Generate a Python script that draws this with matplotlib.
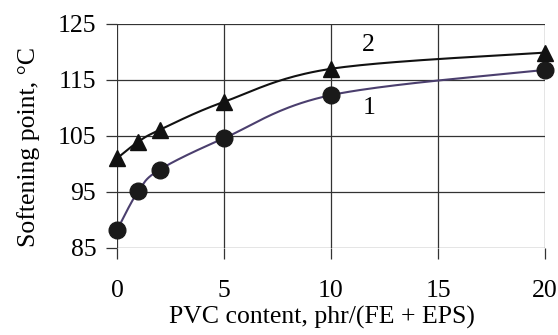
import numpy as np
import matplotlib
matplotlib.use("Agg")
import matplotlib.pyplot as plt

plt.rcParams['font.family'] = ['Liberation Serif', 'DejaVu Serif']

x_vals = [0, 1, 2, 5, 10, 20]
series1 = [88.2, 95.2, 99.0, 104.6, 112.3, 116.8]
series2 = [101.0, 104.0, 106.1, 111.1, 117.0, 119.9]
x_ticks = [0, 5, 10, 15, 20]
y_ticks = [85, 95, 105, 115, 125]
labels = ["1", "2"]


def smooth(xs, ys, sx, sy, n=40):
    # Catmull-Rom style smoothing computed in (approx.) screen proportions
    px = np.asarray(xs, float) * sx
    py = np.asarray(ys, float) * sy
    P = np.column_stack([px, py])
    P = np.vstack([P[0], P, P[-1]])
    out = []
    for i in range(1, len(P) - 2):
        p0, p1, p2, p3 = P[i - 1], P[i], P[i + 1], P[i + 2]
        c1 = p1 + (p2 - p0) / 6.0
        c2 = p2 - (p3 - p1) / 6.0
        t = np.linspace(0, 1, n)[:, None]
        seg = ((1 - t) ** 3) * p1 + 3 * ((1 - t) ** 2) * t * c1 + 3 * (1 - t) * t ** 2 * c2 + t ** 3 * p2
        out.append(seg if i == 1 else seg[1:])
    out = np.vstack(out)
    return out[:, 0] / sx, out[:, 1] / sy


fs = 18.5
fig = plt.figure(figsize=(5.58, 3.35), dpi=100)
ax = fig.add_axes([117 / 558, 1 - 248 / 335, (545 - 117) / 558, (248 - 24) / 335])

sx, sy = 21.4, 5.6
xs1, ys1 = smooth(x_vals, series1, sx, sy)
xs2, ys2 = smooth(x_vals, series2, sx, sy)
ax.plot(xs1, ys1, color='#4b3f6e', lw=1.5, zorder=3)
ax.plot(xs2, ys2, color='#111111', lw=1.5, zorder=3)
ax.plot(x_vals, series1, 'o', color='#1a1a1a', ms=12, zorder=4, clip_on=False)
ax.plot(x_vals, series2, '^', color='#111111', ms=11.5, zorder=4, clip_on=False)

ax.text(11.75, 121.3, labels[1], fontsize=fs, ha='center', va='center')
ax.text(11.8, 110.0, labels[0], fontsize=fs, ha='center', va='center')

ax.set_xlim(0, 20)
ax.set_ylim(85, 125)
ax.set_xticks(x_ticks)
ax.set_yticks(y_ticks)
ax.grid(True, color='#333333', lw=0.9)
for s in ax.spines.values():
    s.set_visible(False)
ax.tick_params(axis='both', length=8, width=0.9, color='#333333', labelsize=fs)
ax.tick_params(axis='x', pad=15)
ax.tick_params(axis='y', pad=7)
ax.set_xlabel('PVC content, phr/(FE + EPS)', fontsize=fs)
ax.set_ylabel('Softening point, °C', fontsize=fs)
ax.xaxis.set_label_coords(0.478, -0.26)
ax.yaxis.set_label_coords(-0.18, 0.45)

fig.savefig('out.png', dpi=100)
